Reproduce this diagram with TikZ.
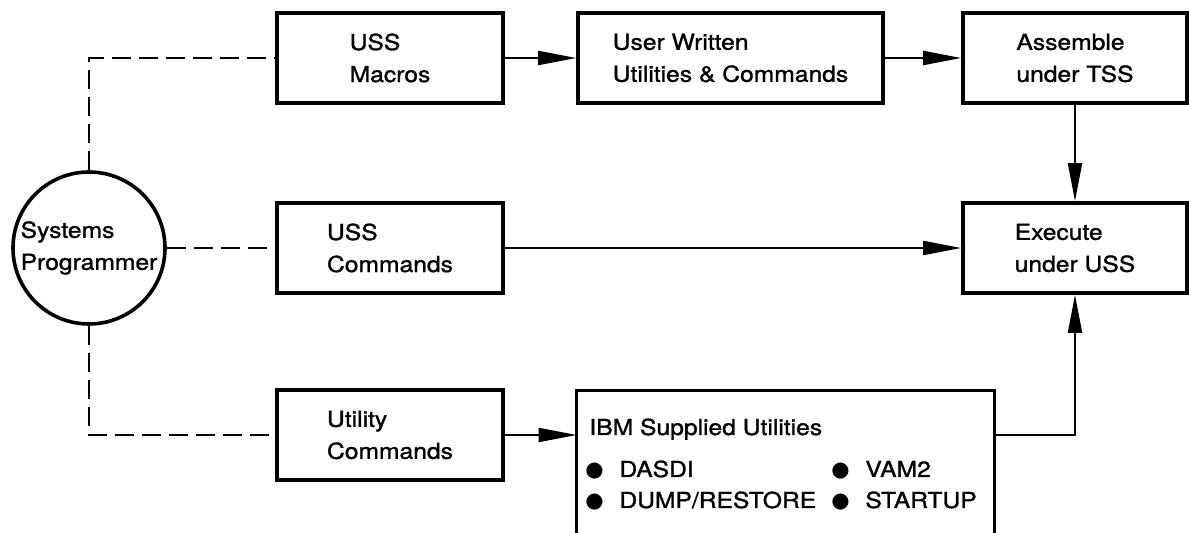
\documentclass[tikz,border=0pt]{standalone}
\usepackage{fontspec}
\setmainfont{TeX Gyre Heros}[FakeStretch=1.12, FakeBold=1.3]
\newfontfamily\bulfont{DejaVu Sans}
\usetikzlibrary{arrows.meta}
\newcommand{\ibmitem}[1]{\makebox[17pt][l]{\bulfont\fontsize{10.5}{10}\selectfont ●}#1}

\begin{document}
\begin{tikzpicture}[x=0.5pt, y=-0.5pt,
    every node/.style={font=\fontsize{11}{16}\selectfont},
    blockbox/.style={draw, line width=1.8pt, minimum width=113pt, minimum height=45pt, align=left, inner sep=0pt},
    link/.style={line width=1pt, -{Triangle[length=19pt, width=7pt]}},
    dashlink/.style={line width=1.3pt, dash pattern=on 9.5pt off 4pt},
    listentry/.style={anchor=base west, inner sep=0pt}]
    \useasboundingbox (0, 0) rectangle (1189, 533) ;

    \node[draw, circle, line width=1.8pt, minimum size=76pt, inner sep=0pt, align=left] (sp) at (89, 248) {Systems\\Programmer} ;

    \node[blockbox] (macros) at (390, 58) {USS\\Macros} ;
    \node[blockbox] (ussc) at (390, 248) {USS\\Commands} ;
    \node[blockbox] (utilc) at (390, 435) {Utility\\Commands} ;
    \node[blockbox, minimum width=152.5pt] (uw) at (730.5, 58) {User Written\\Utilities \& Commands} ;
    \node[blockbox, minimum width=112pt] (asm) at (1075, 58) {Assemble\\under TSS} ;
    \node[blockbox, minimum width=112pt] (exe) at (1075, 248) {Execute\\under USS} ;

    % open box at the bottom, runs off the page
    \node[minimum width=208.5pt, minimum height=77pt, inner sep=0pt] (ibm) at (785.5, 468) {} ;
    \draw[line width=1.8pt] (ibm.south west) |- (ibm.north east) -- (ibm.south east) ;
    \node[listentry] (ibmtitle) at (589, 435) {IBM Supplied Utilities} ;
    \node[listentry] (dasdi) at (585, 477) {\ibmitem{DASDI}} ;
    \node[listentry] (dump) at (585, 508) {\ibmitem{DUMP/RESTORE}} ;
    \node[listentry] (vam) at (831, 477) {\ibmitem{VAM2}} ;
    \node[listentry] (startup) at (831, 508) {\ibmitem{STARTUP}} ;

    \draw[dashlink] (sp.north) |- (macros.west) ;
    \draw[dashlink] (sp.east) -- (ussc.west) ;
    \draw[dashlink] (sp.south) |- (utilc.west) ;

    \draw[link] (macros.east) -- (uw.west) ;
    \draw[link] (uw.east) -- (asm.west) ;
    \draw[link] (asm.south) -- (exe.north) ;
    \draw[link] (ussc.east) -- (exe.west) ;
    \draw[link] (utilc.east) -- (utilc.east -| ibm.west) ;
    \draw[link] (utilc.east -| ibm.east) -| (exe.south) ;
\end{tikzpicture}
\end{document}
